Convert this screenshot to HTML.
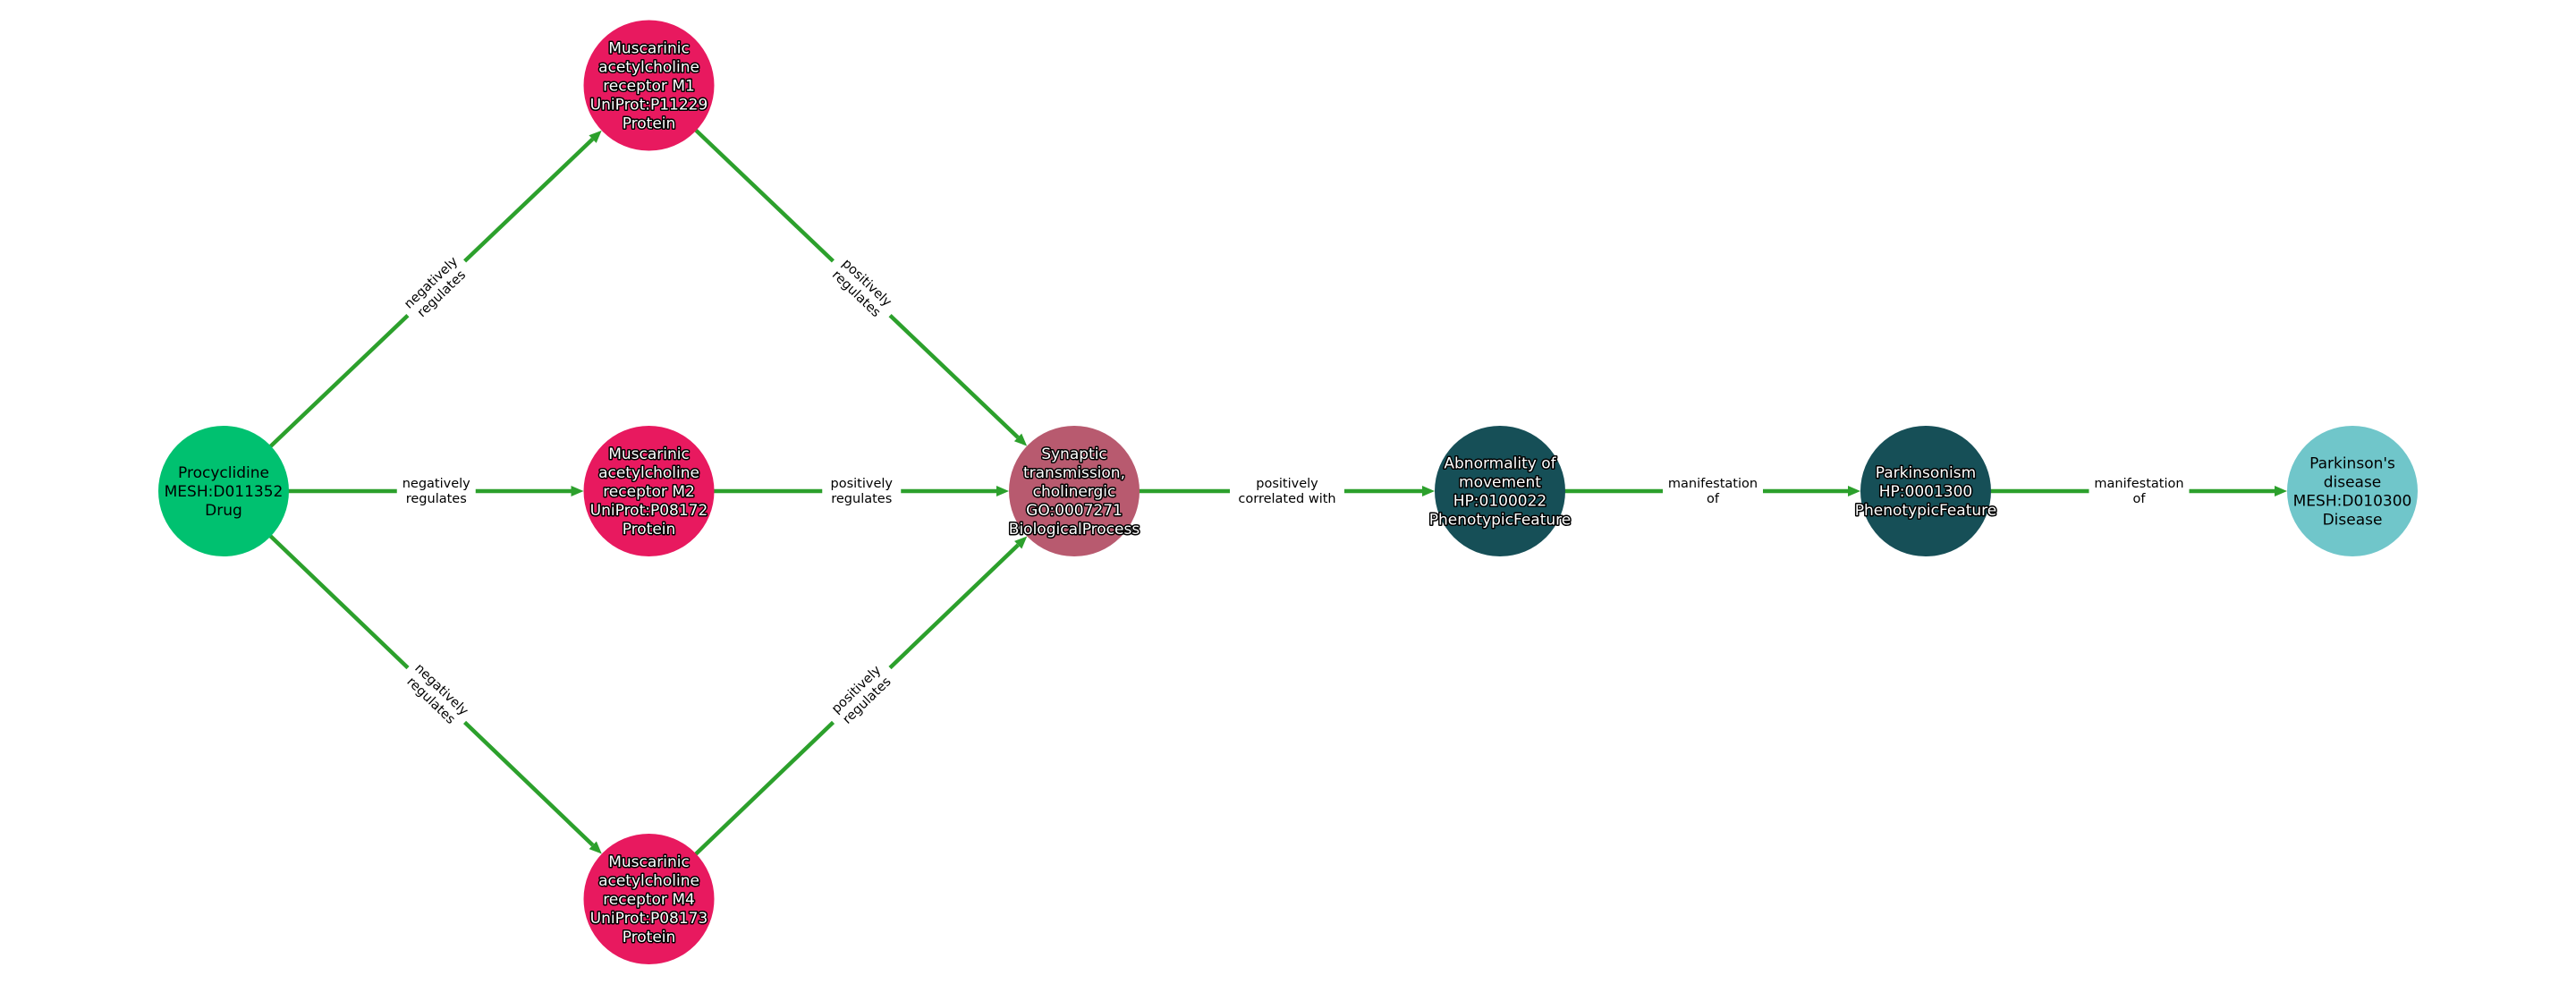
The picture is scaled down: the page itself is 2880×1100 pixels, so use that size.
<!DOCTYPE html>
<html><head><meta charset="utf-8"><style>
html,body{margin:0;padding:0;background:#fff;width:2880px;height:1100px;overflow:hidden}
svg{display:block}
text{font-family:"DejaVu Sans","Liberation Sans",sans-serif}
</style></head><body>
<svg id="s" width="2880" height="1100" viewBox="0 0 2880 1100" xmlns="http://www.w3.org/2000/svg"></svg>
<script>
const S=document.getElementById('s');const NS='http://www.w3.org/2000/svg';
function el(t,a,p){const e=document.createElementNS(NS,t);for(const k in a)e.setAttribute(k,a[k]);(p||S).appendChild(e);return e;}
const R=73;
const N={
P:[250,549,'#00c170',0,['Procyclidine','MESH:D011352','Drug']],
M1:[725.5,95.5,'#e8195f',1,['Muscarinic','acetylcholine','receptor M1','UniProt:P11229','Protein']],
M2:[725.5,549,'#e8195f',1,['Muscarinic','acetylcholine','receptor M2','UniProt:P08172','Protein']],
M4:[725.5,1005,'#e8195f',1,['Muscarinic','acetylcholine','receptor M4','UniProt:P08173','Protein']],
SY:[1201,549,'#b85a6f',1,['Synaptic','transmission,','cholinergic','GO:0007271','BiologicalProcess']],
AB:[1677,549,'#164f57',1,['Abnormality of','movement','HP:0100022','PhenotypicFeature']],
PK:[2153,549,'#164f57',1,['Parkinsonism','HP:0001300','PhenotypicFeature']],
PD:[2630,549,'#70c6ca',0,['Parkinson\'s','disease','MESH:D010300','Disease']]
};
const E=[['P','M1',['negatively','regulates']],['P','M2',['negatively','regulates']],['P','M4',['negatively','regulates']],
['M1','SY',['positively','regulates']],['M2','SY',['positively','regulates']],['M4','SY',['positively','regulates']],
['SY','AB',['positively','correlated with']],['AB','PK',['manifestation','of']],['PK','PD',['manifestation','of']]];
const C='#2ca02c';
for(const [a,b,lab] of E){
 const [x1,y1]=N[a],[x2,y2]=N[b];const dx=x2-x1,dy=y2-y1,L=Math.hypot(dx,dy),ux=dx/L,uy=dy/L;
 const ex=x2-ux*R,ey=y2-uy*R,hl=14,hw=6;
 const bx=ex-ux*hl,by=ey-uy*hl;
 el('line',{x1:x1,y1:y1,x2:bx,y2:by,stroke:C,'stroke-width':4.5});
 el('polygon',{points:`${ex},${ey} ${bx-uy*hw},${by+ux*hw} ${bx+uy*hw},${by-ux*hw}`,fill:C});
 const mx=(x1+x2)/2,my=(y1+y2)/2;let ang=Math.atan2(dy,dx)*180/Math.PI;if(ang>90)ang-=180;if(ang<-90)ang+=180;
 const g=el('g',{transform:`translate(${mx},${my}) rotate(${ang})`});
 const w=Math.max(...lab.map(s=>s.length))*8.0+8;
 el('rect',{x:-w/2,y:-19,width:w,height:38,fill:'#fff'},g);
 lab.forEach((s,i)=>{const t=el('text',{x:0,y:-4+i*17,'text-anchor':'middle','font-size':14.5,fill:'#000'},g);t.textContent=s;});
}
for(const k in N){const [x,y,c,w,lines]=N[k];
 el('circle',{cx:x,cy:y,r:R,fill:c});
 const n=lines.length,lh=21,y0=y-(n-1)*lh/2+6;
 lines.forEach((s,i)=>{const a={x:x,y:y0+i*lh,'text-anchor':'middle','font-size':17,fill:w?'#fff':'#000'};
  if(w){a.stroke='#000';a['stroke-width']=3;a['paint-order']='stroke';a['stroke-linejoin']='round';}
  const t=el('text',a);t.textContent=s;});
}
</script>
</body></html>
